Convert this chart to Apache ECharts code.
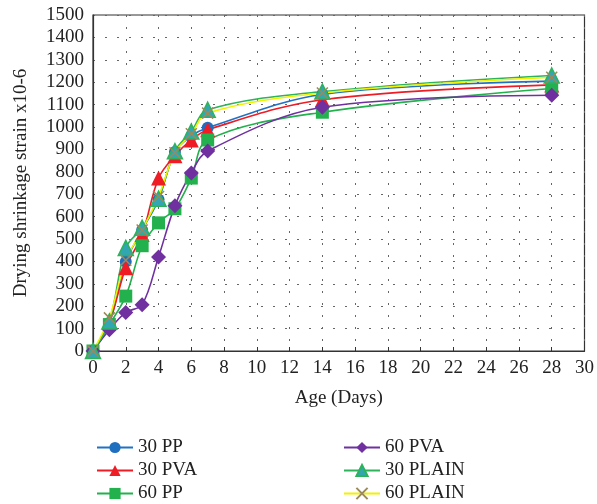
<!DOCTYPE html>
<html lang="en">
<head>
    <meta charset="UTF-8">
    <title>Drying shrinkage</title>
    <script src="https://cdn.jsdelivr.net/npm/echarts@6/dist/echarts.min.js"></script>
    <style>
        html, body { margin: 0; padding: 0; background: #fff; }
    </style>
</head>
<body>
<div id="main" style="width: 597px;height:504px;"></div>
<script type="text/javascript">
    // age in days
    var days = [0, 1, 2, 3, 4, 5, 6, 7, 14, 28];
    // strain x10-6
    var pp30 = [0, 125, 398, 540, 676, 888, 960, 997, 1145, 1205];
    var pva30 = [0, 128, 372, 520, 772, 872, 942, 988, 1122, 1188];
    var pp60 = [0, 118, 245, 470, 572, 635, 772, 942, 1066, 1172];
    var pva60 = [0, 95, 172, 207, 420, 648, 795, 893, 1088, 1142];
    var plain30 = [0, 132, 460, 550, 680, 892, 980, 1077, 1158, 1230];
    var plain60 = [0, 148, 405, 540, 690, 885, 970, 1062, 1152, 1222];
    var names = ['30 PP', '30 PVA', '60 PP', '60 PVA', '30 PLAIN', '60 PLAIN'];

    var font = 'Liberation Serif';
    var crossPath = 'path://M0,0L10,10M10,0L0,10';

    function pairs(vals) {
        var out = [];
        for (var i = 0; i < days.length; i++) {
            out.push([days[i], vals[i]]);
        }
        return out;
    }

    function makeSeries(name, vals, lineColor, symbol, size, fill, border) {
        return {
            name: name,
            type: 'line',
            smooth: 0.35,
            data: pairs(vals),
            symbol: symbol,
            symbolSize: size,
            lineStyle: {color: lineColor, width: 1.6},
            itemStyle: {color: fill, borderColor: border || fill, borderWidth: border ? 1.5 : 0},
            emphasis: {disabled: true}
        };
    }

    var myChart = echarts.init(document.getElementById('main'));
    var series = [
        makeSeries(names[0], pp30, '#1f72c4', 'circle', 12, '#1f6fc0'),
        makeSeries(names[1], pva30, '#ee1c25', 'triangle', 15, '#ee1c25'),
        makeSeries(names[2], pp60, '#22b14c', 'rect', 13, '#22b14c'),
        makeSeries(names[3], pva60, '#7030a0', 'diamond', 15, '#7030a0'),
        makeSeries(names[4], plain30, '#2fb35a', 'triangle', 15, '#33a6b4', '#2cb35a'),
        makeSeries(names[5], plain60, '#f2f200', crossPath, 11, '#9c8a5a', '#9c8a5a')
    ];

    // one legend per item: two columns of three rows
    var legendText = {fontFamily: font, fontSize: 19, color: '#222'};
    var legends = [];
    for (var k = 0; k < names.length; k++) {
        legends.push({
            data: [names[k]],
            left: k < 3 ? 91 : 338,
            top: 433 + (k % 3) * 23,
            itemWidth: 36, itemHeight: 14,
            textStyle: legendText
        });
    }

    myChart.setOption({
        animation: false,
        backgroundColor: '#fff',
        grid: {
            left: 93, right: 10, top: 15, bottom: 153,
            show: true, borderColor: '#333', borderWidth: 1.2
        },
        legend: legends,
        xAxis: {
            type: 'value', min: 0, max: 30, interval: 2,
            name: 'Age (Days)', nameLocation: 'middle', nameGap: 38,
            nameTextStyle: {fontFamily: font, fontSize: 19, color: '#222'},
            axisLine: {lineStyle: {color: '#333', width: 1.2}},
            axisTick: {inside: true, length: 4, lineStyle: {color: '#333'}},
            axisLabel: {fontFamily: font, fontSize: 19, color: '#222', margin: 8},
            splitLine: {show: true, lineStyle: {type: [2, 10], color: '#666', width: 1}}
        },
        yAxis: {
            type: 'value', min: 0, max: 1500, interval: 100,
            name: 'Drying shrinkage strain x10-6', nameLocation: 'middle', nameGap: 62,
            nameTextStyle: {fontFamily: font, fontSize: 19, color: '#222'},
            axisLine: {show: true, lineStyle: {color: '#333', width: 1.2}},
            axisTick: {show: false},
            axisLabel: {
                fontFamily: font, fontSize: 19, color: '#222', margin: 9,
                formatter: function (v) { return String(v); }
            },
            splitLine: {show: true, lineStyle: {type: [2, 10], color: '#666', width: 1}}
        },
        series: series
    });
</script>
</body>
</html>
